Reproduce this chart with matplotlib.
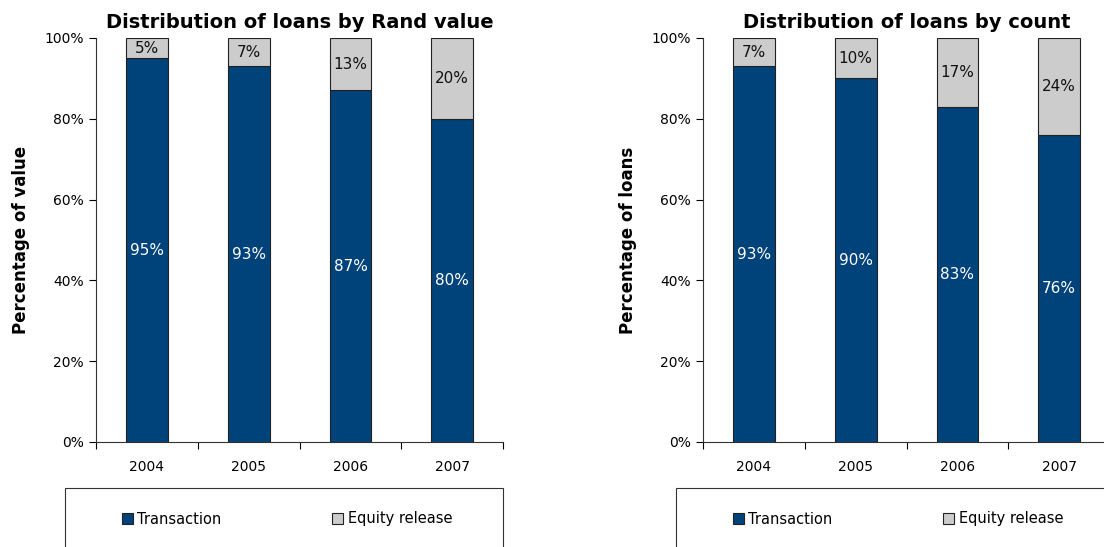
import numpy as np
import matplotlib.pyplot as plt
from matplotlib.patches import Rectangle, Patch

years = ['2004', '2005', '2006', '2007']

# share of loans by Rand value (%)
value_transaction = [95, 93, 87, 80]
value_equity = [5, 7, 13, 20]

# share of loans by count (%)
count_transaction = [93, 90, 83, 76]
count_equity = [7, 10, 17, 24]

navy = '#00427A'
grey = '#CCCCCC'

fig = plt.figure(figsize=(11.04, 5.47), dpi=100)

panels = [
    (0.087, 'Distribution of loans by Rand value', 'Percentage of value',
     value_transaction, value_equity, 65),
    (0.6368, 'Distribution of loans by count', 'Percentage of loans',
     count_transaction, count_equity, 676),
]

for x0, title, ylabel, trans, equity, box_x in panels:
    ax = fig.add_axes([x0, 0.192, 0.3687, 0.7386])
    x = np.arange(len(years))
    ax.bar(x, trans, width=0.41, color=navy, edgecolor='#222222', linewidth=0.8)
    ax.bar(x, equity, width=0.41, bottom=trans, color=grey, edgecolor='#222222', linewidth=0.8)

    for xi, t, e in zip(x, trans, equity):
        ax.text(xi, t / 2, f'{t}%', ha='center', va='center', color='white', fontsize=11)
        ax.text(xi, t + e / 2, f'{e}%', ha='center', va='center', color='#111111', fontsize=11)

    ax.set_xlim(-0.5, len(years) - 0.5)
    ax.set_ylim(0, 100)
    ax.set_yticks(np.arange(0, 101, 20))
    ax.set_yticklabels([f'{v}%' for v in range(0, 101, 20)], fontsize=10)
    ax.set_xticks(x)
    ax.set_xticklabels(years, fontsize=10)
    ax.set_xticks(np.arange(-0.5, len(years)), minor=True)
    ax.tick_params(axis='x', which='major', length=0, pad=13)
    ax.tick_params(axis='x', which='minor', length=5, width=0.8, direction='out')
    ax.tick_params(axis='y', length=5, width=0.8, direction='out', pad=4)
    for side in ['top', 'right']:
        ax.spines[side].set_visible(False)
    for side in ['left', 'bottom']:
        ax.spines[side].set_linewidth(0.8)
        ax.spines[side].set_color('#333333')
    ax.set_title(title, fontsize=14, fontweight='bold', pad=7)
    ax.set_ylabel(ylabel, fontsize=12, fontweight='bold', labelpad=10)

    # legend box underneath each chart
    bw, bh = 438 / 1104, 70 / 547
    by = 1 - 488 / 547 - bh
    fig.patches.append(Rectangle((box_x / 1104, by), bw, bh, transform=fig.transFigure,
                                 facecolor='none', edgecolor='#333333', linewidth=0.8))
    handles = [Patch(facecolor=navy, edgecolor='#222222', linewidth=0.8),
               Patch(facecolor=grey, edgecolor='#222222', linewidth=0.8)]
    fig.legend(handles, ['Transaction', 'Equity release'], loc='center',
               bbox_to_anchor=((box_x + 222) / 1104, 1 - 519 / 547), ncol=2,
               frameon=False, fontsize=10.5, handlelength=0.75, handleheight=0.75,
               handletextpad=0.3, columnspacing=7.6)

fig.savefig('out.png', dpi=100)
